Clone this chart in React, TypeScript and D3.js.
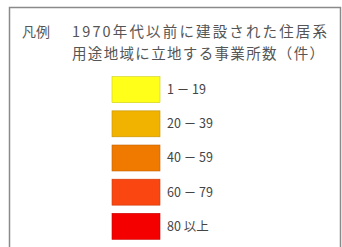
import * as d3 from 'd3'
import { useEffect, useRef } from 'react'

const legendLabels = ['1 － 19', '20 － 39', '40 － 59', '60 － 79', '80 以上']
const legendColors = ['#ffff1a', '#f2b200', '#f07a00', '#fa4610', '#f50000']
const titleLines = ['1970年代以前に建設された住居系', '用途地域に立地する事業所数（件）']

export default function App() {
  const svgRef = useRef<SVGSVGElement>(null)

  useEffect(() => {
    const svg = d3.select(svgRef.current)
    svg.selectAll('*').remove()

    // frame (bottom edge runs off the picture)
    svg
      .append('path')
      .attr('d', 'M9.5,260 V7.5 H340.5 V260')
      .attr('fill', 'none')
      .attr('stroke', '#8a8a8a')
      .attr('stroke-width', 1.5)

    const font = '"Noto Sans CJK JP", sans-serif'

    svg
      .append('text')
      .attr('x', 22)
      .attr('y', 37)
      .attr('font-family', font)
      .attr('font-size', 14)
      .attr('fill', '#555')
      .text('凡例')

    svg
      .selectAll('text.title')
      .data(titleLines)
      .join('text')
      .attr('class', 'title')
      .attr('x', 72)
      .attr('y', (d, i) => 37 + i * 22)
      .attr('font-family', font)
      .attr('font-size', 14.5)
      .attr('fill', '#555')
      .attr('textLength', (d, i) => (i === 0 ? 255 : 252))
      .attr('lengthAdjust', 'spacing')
      .text((d) => d)

    const y = d3
      .scaleBand<string>()
      .domain(legendLabels)
      .range([76, 240])
      .paddingInner(0.24)
      .paddingOuter(0.02)

    const color = d3.scaleOrdinal<string, string>().domain(legendLabels).range(legendColors)

    const rows = svg
      .selectAll('g.row')
      .data(legendLabels)
      .join('g')
      .attr('class', 'row')
      .attr('transform', (d) => `translate(0,${y(d)})`)

    rows
      .append('rect')
      .attr('x', 112)
      .attr('width', 48)
      .attr('height', y.bandwidth())
      .attr('fill', (d) => color(d))
      .attr('stroke', (d) => d3.color(color(d))!.darker(0.6).formatHex())
      .attr('stroke-width', 0.6)

    rows
      .append('text')
      .attr('x', 167)
      .attr('y', y.bandwidth() / 2)
      .attr('dy', '0.36em')
      .attr('font-family', font)
      .attr('font-size', 12.5)
      .attr('fill', '#444')
      .text((d) => d)
  }, [])

  return (
    <svg
      ref={svgRef}
      width={342}
      height={247}
      style={{ position: 'fixed', left: 0, top: 0, background: '#fff' }}
    />
  )
}
